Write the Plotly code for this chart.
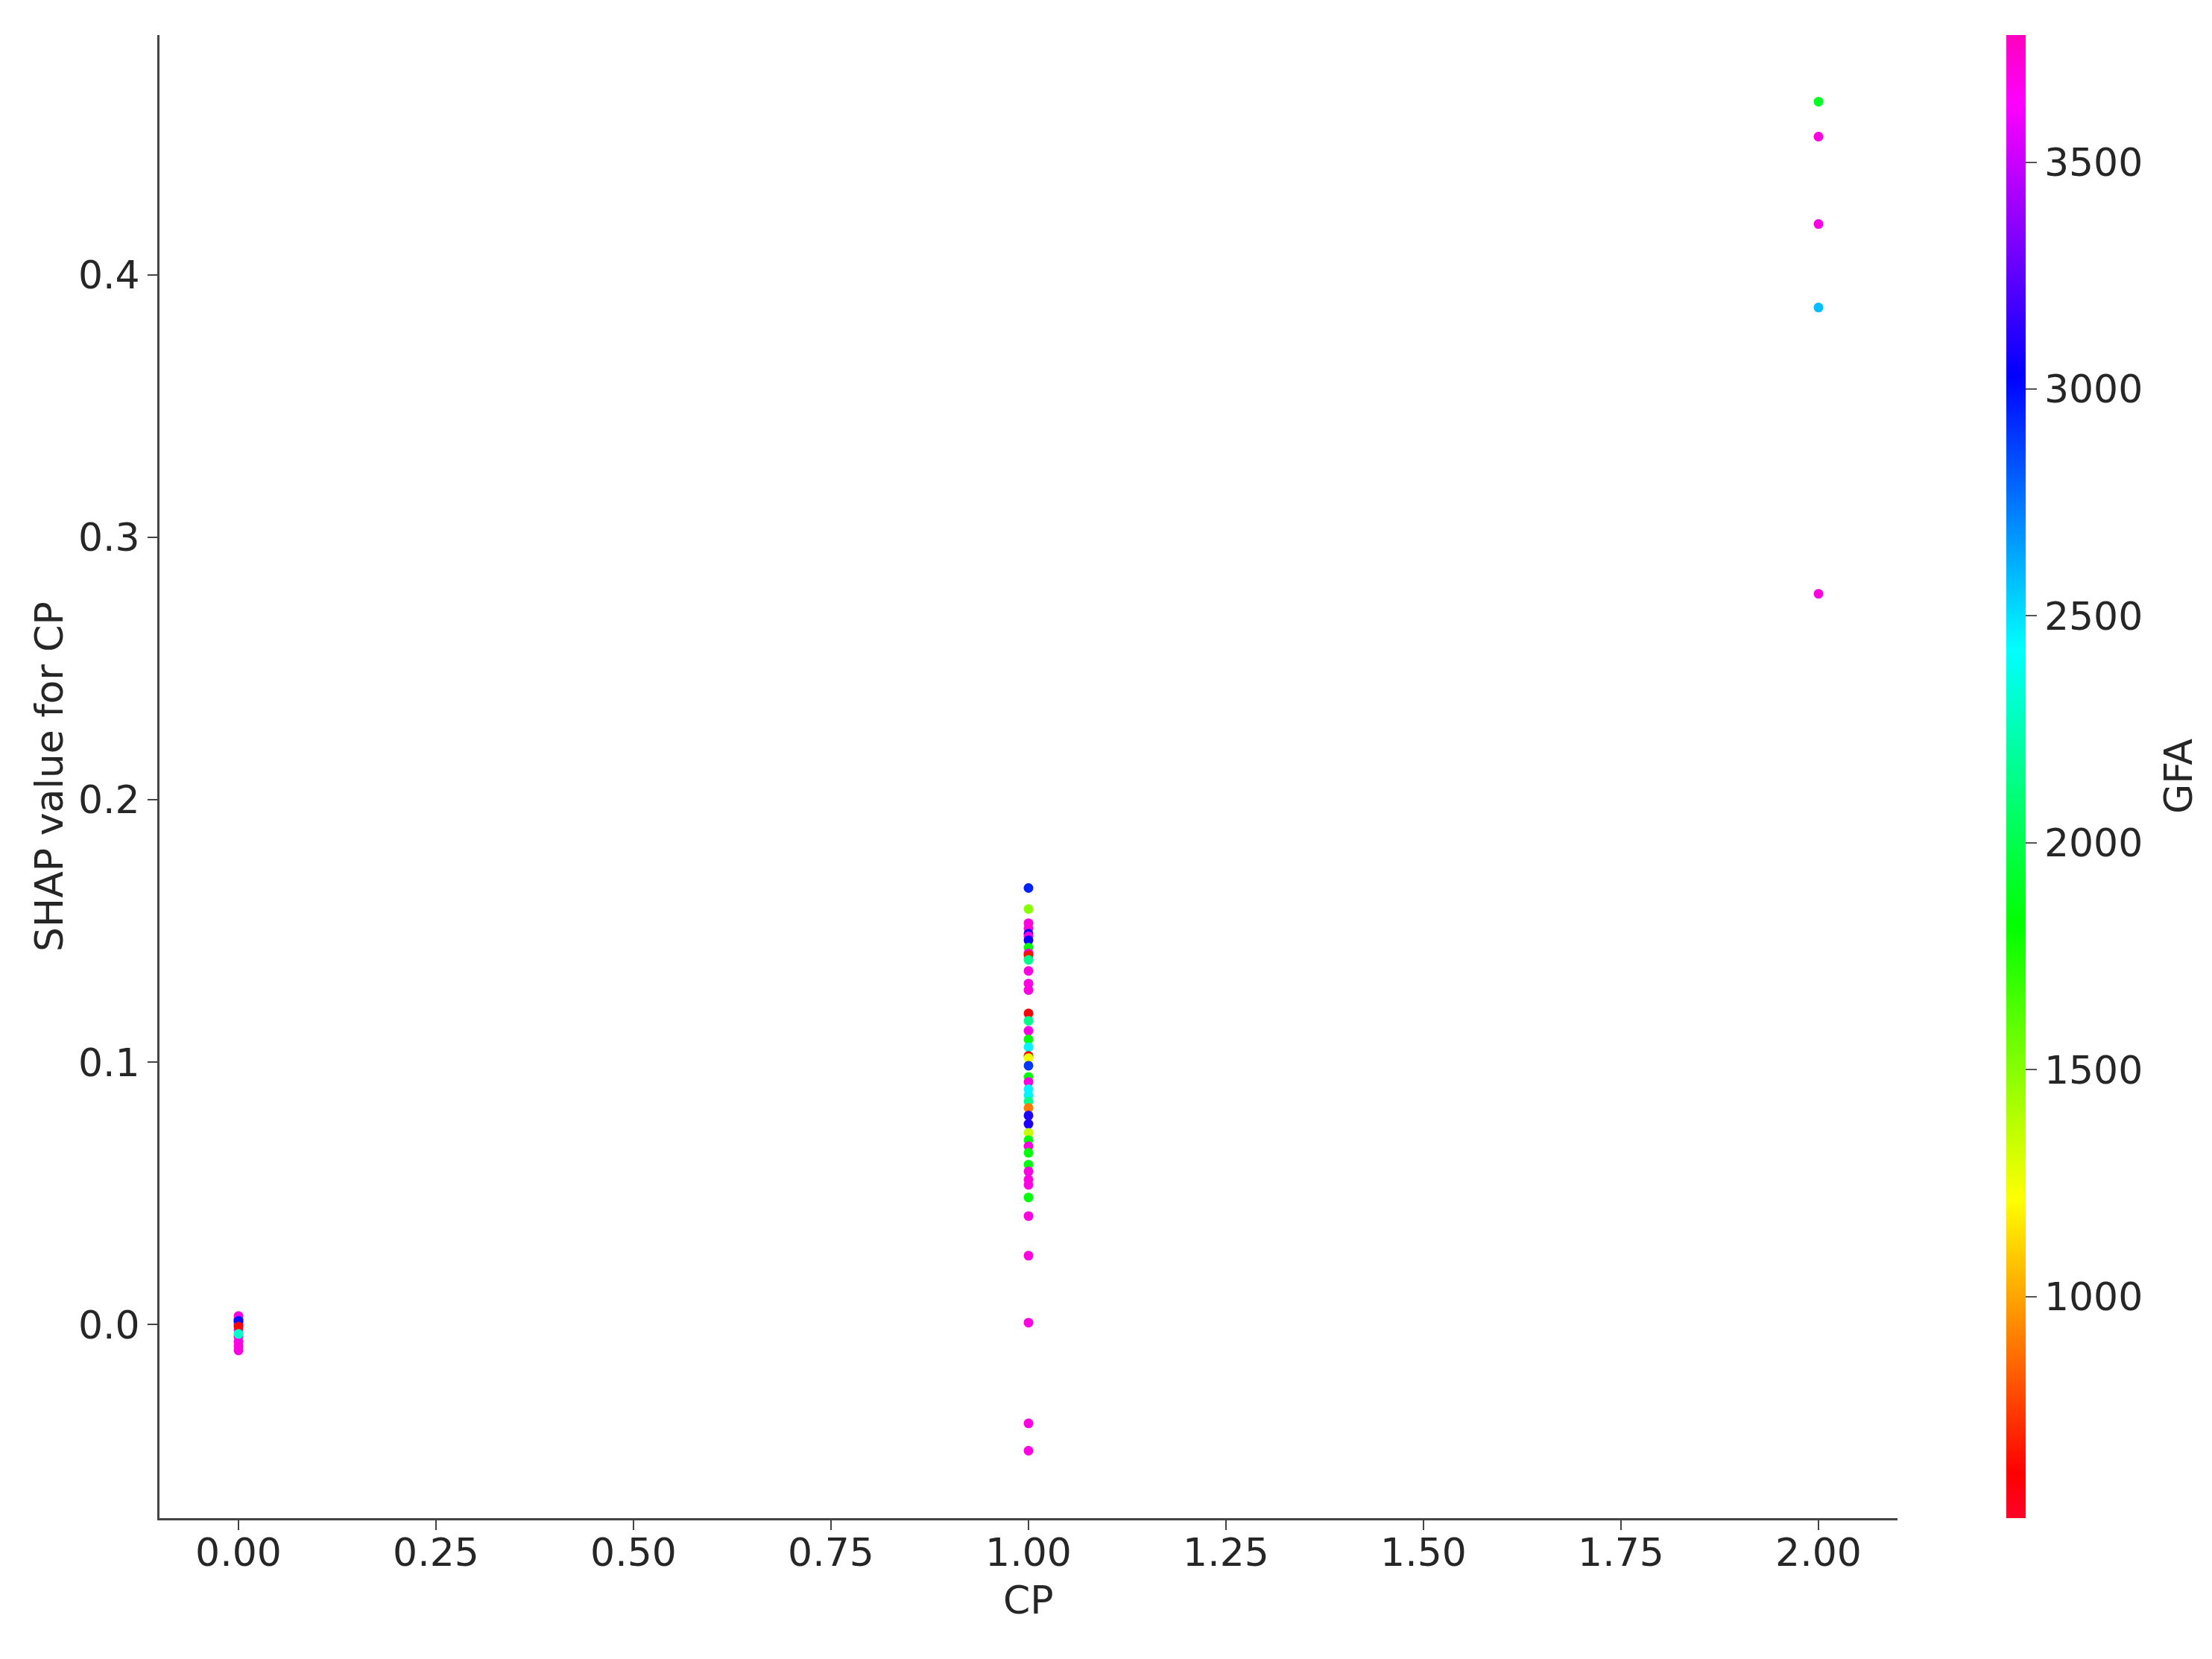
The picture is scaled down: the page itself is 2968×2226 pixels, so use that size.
import plotly.graph_objects as go

# SHAP dependence data
cp0_shap = [0.0033, 0.0022, 0.0010, 0.0000, -0.0020, -0.0045, -0.0065, -0.0082, -0.0098,
            0.0015, -0.0007, -0.0035]
cp0_gfa = [3700, 3700, 3700, 3700, 3700, 3700, 3700, 3700, 3700,
           3000, 600, 2300]

cp1_shap = [0.1664, 0.1584, 0.1530, 0.1510, 0.1490, 0.1480, 0.1465, 0.1437, 0.1415, 0.1408,
            0.1390, 0.1348, 0.1300, 0.1275, 0.1186, 0.1158, 0.1120, 0.1087, 0.1058, 0.1024,
            0.1016, 0.0987, 0.0944, 0.0925, 0.0897, 0.0874, 0.0851, 0.0826, 0.0797, 0.0765,
            0.0731, 0.0703, 0.0680, 0.0655, 0.0610, 0.0584, 0.0553, 0.0533, 0.0485, 0.0414,
            0.0263, 0.0008, -0.0376, -0.0480]
cp1_gfa = [2950, 1500, 3700, 3700, 3050, 3700, 3050, 1850, 3700, 650,
           2150, 3700, 3700, 3700, 600, 2150, 3700, 1850, 2450, 620,
           1250, 2900, 1850, 3700, 2450, 2450, 2150, 900, 3100, 3100,
           1350, 1850, 3700, 1850, 1850, 3700, 3700, 3700, 1850, 3700,
           3700, 3700, 3700, 3700]

cp2_shap = [0.4660, 0.4527, 0.4194, 0.3876, 0.2785]
cp2_gfa = [1900, 3700, 3700, 2580, 3700]

cp_vals = [0] * len(cp0_shap) + [1] * len(cp1_shap) + [2] * len(cp2_shap)
shap_vals = cp0_shap + cp1_shap + cp2_shap
gfa_vals = cp0_gfa + cp1_gfa + cp2_gfa

# matplotlib gist_rainbow
gist_rainbow = [
    [0.000, "rgb(255,0,41)"],
    [0.030, "rgb(255,0,0)"],
    [0.215, "rgb(255,255,0)"],
    [0.400, "rgb(0,255,0)"],
    [0.586, "rgb(0,255,255)"],
    [0.770, "rgb(0,0,255)"],
    [0.954, "rgb(255,0,255)"],
    [1.000, "rgb(255,0,191)"],
]

FONT = "DejaVu Sans"
TXT = "#262626"
FS = 52

fig = go.Figure(
    go.Scatter(
        x=cp_vals,
        y=shap_vals,
        mode="markers",
        marker=dict(
            size=13,
            color=gfa_vals,
            colorscale=gist_rainbow,
            cmin=512,
            cmax=3780,
            line_width=0,
            colorbar=dict(
                x=1.0626,
                xanchor="left",
                xpad=0,
                y=0.5,
                yanchor="middle",
                len=1,
                ypad=0,
                thickness=26,
                outlinewidth=0,
                ticks="outside",
                ticklen=15,
                tickwidth=2,
                tickcolor="#555",
                tickvals=[1000, 1500, 2000, 2500, 3000, 3500],
                tickfont=dict(family=FONT, size=FS, color=TXT),
            ),
        ),
        showlegend=False,
    )
)

# axis / colorbar labels placed by hand
label_font = dict(family=FONT, size=FS, color=TXT)
fig.add_annotation(text="GFA", x=1.1617, y=0.5, xref="paper", yref="paper",
                   xanchor="center", yanchor="middle", textangle=-90,
                   showarrow=False, font=label_font)
fig.add_annotation(text="SHAP value for CP", x=-0.0635, y=0.5, xref="paper", yref="paper",
                   xanchor="center", yanchor="middle", textangle=-90,
                   showarrow=False, font=label_font)
fig.add_annotation(text="CP", x=0.5, y=-0.0555, xref="paper", yref="paper",
                   xanchor="center", yanchor="middle",
                   showarrow=False, font=label_font)

fig.update_xaxes(
    range=[-0.1, 2.1],
    tickvals=[0, 0.25, 0.5, 0.75, 1.0, 1.25, 1.5, 1.75, 2.0],
    tickformat=".2f",
    showgrid=False,
    zeroline=False,
    showline=True,
    linecolor="#444",
    linewidth=3,
    ticks="outside",
    ticklen=13,
    tickwidth=2,
    tickcolor="#444",
    ticklabelstandoff=-14,
    tickfont=label_font,
)
fig.update_yaxes(
    range=[-0.0737, 0.4914],
    tickvals=[0.0, 0.1, 0.2, 0.3, 0.4],
    tickformat=".1f",
    showgrid=False,
    zeroline=False,
    showline=True,
    linecolor="#444",
    linewidth=3,
    ticks="outside",
    ticklen=13,
    tickwidth=2,
    tickcolor="#444",
    tickfont=label_font,
)

fig.update_layout(
    width=2968,
    height=2226,
    margin=dict(l=206, r=430, t=39, b=197),
    plot_bgcolor="white",
    paper_bgcolor="white",
)

fig.write_html("out.html")
